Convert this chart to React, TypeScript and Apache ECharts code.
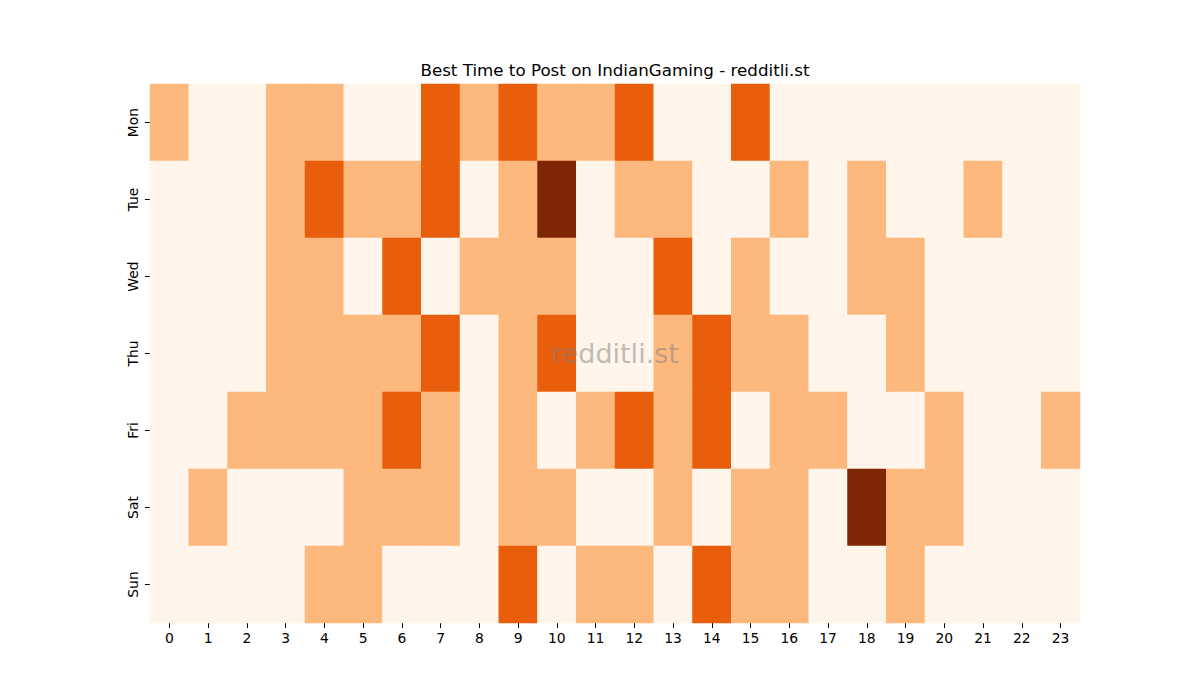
import { useEffect, useRef } from 'react';
import * as echarts from 'echarts';

const hours = Array.from({ length: 24 }, (_, i) => String(i));
const days = ['Mon', 'Tue', 'Wed', 'Thu', 'Fri', 'Sat', 'Sun'];

// activity level per hour, 0..3
const mon = [1, 0, 0, 1, 1, 0, 0, 2, 1, 2, 1, 1, 2, 0, 0, 2, 0, 0, 0, 0, 0, 0, 0, 0];
const tue = [0, 0, 0, 1, 2, 1, 1, 2, 0, 1, 3, 0, 1, 1, 0, 0, 1, 0, 1, 0, 0, 1, 0, 0];
const wed = [0, 0, 0, 1, 1, 0, 2, 0, 1, 1, 1, 0, 0, 2, 0, 1, 0, 0, 1, 1, 0, 0, 0, 0];
const thu = [0, 0, 0, 1, 1, 1, 1, 2, 0, 1, 2, 0, 0, 1, 2, 1, 1, 0, 0, 1, 0, 0, 0, 0];
const fri = [0, 0, 1, 1, 1, 1, 2, 1, 0, 1, 0, 1, 2, 1, 2, 0, 1, 1, 0, 0, 1, 0, 0, 1];
const sat = [0, 1, 0, 0, 0, 1, 1, 1, 0, 1, 1, 0, 0, 1, 0, 1, 1, 0, 3, 1, 1, 0, 0, 0];
const sun = [0, 0, 0, 0, 1, 1, 0, 0, 0, 2, 0, 1, 1, 0, 2, 1, 1, 0, 0, 1, 0, 0, 0, 0];

const levelColors = ['#fff5eb', '#fdb87d', '#e95e0d', '#7f2704'];

export default function App() {
  const chartRef = useRef<HTMLDivElement>(null);

  useEffect(() => {
    if (!chartRef.current) return;
    document.body.style.margin = '0';
    const chart = echarts.init(chartRef.current, null, { renderer: 'svg' });

    const rows = [mon, tue, wed, thu, fri, sat, sun];
    const data: number[][] = [];
    rows.forEach((row, d) => row.forEach((v, h) => data.push([h, d, v])));

    const font = 'DejaVu Sans';

    chart.setOption({
      animation: false,
      backgroundColor: '#fff',
      graphic: [
        {
          type: 'text',
          x: 615,
          y: 70,
          style: {
            text: 'Best Time to Post on IndianGaming - redditli.st',
            fontFamily: font,
            fontSize: 16.7,
            fill: '#000',
            align: 'center',
            verticalAlign: 'middle'
          }
        },
        {
          type: 'text',
          x: 615,
          y: 353,
          z: 100,
          style: {
            text: 'redditli.st',
            fontFamily: font,
            fontSize: 27,
            fill: 'rgba(128,128,128,0.5)',
            align: 'center',
            verticalAlign: 'middle'
          }
        }
      ],
      grid: { left: 150, right: 120, top: 84, bottom: 77 },
      xAxis: {
        type: 'category',
        data: hours,
        axisLine: { show: false },
        axisTick: { show: true, alignWithLabel: true, length: 5, lineStyle: { color: '#000' } },
        axisLabel: { fontFamily: font, fontSize: 13.9, color: '#000', margin: 8 },
        splitArea: { show: false }
      },
      yAxis: {
        type: 'category',
        data: days,
        inverse: true,
        axisLine: { show: false },
        axisTick: { show: true, alignWithLabel: true, length: 5, lineStyle: { color: '#000' } },
        axisLabel: { fontFamily: font, fontSize: 13.9, color: '#000', rotate: 90, margin: 10 },
        splitArea: { show: false }
      },
      visualMap: {
        show: false,
        type: 'piecewise',
        dimension: 2,
        pieces: levelColors.map((c, i) => ({ value: i, color: c }))
      },
      series: [
        {
          type: 'heatmap',
          data,
          itemStyle: { borderWidth: 0 },
          emphasis: { disabled: true }
        }
      ]
    });

    return () => chart.dispose();
  }, []);

  return <div ref={chartRef} style={{ width: 1200, height: 700 }} />;
}
